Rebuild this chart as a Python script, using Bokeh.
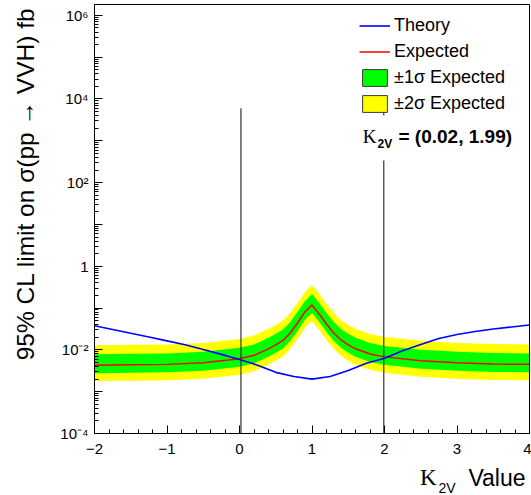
import math
from bokeh.plotting import figure
from bokeh.models import (FixedTicker, CustomJSTickFormatter, Legend, LegendItem,
                          Label, BoxAnnotation, Range1d)
from bokeh.embed import file_html
from bokeh.resources import INLINE

# Expected limit scan over kappa_2V (fb)
k2v = [-2.0, -1.5, -1.0, -0.5, 0.0, 0.2, 0.4, 0.5, 0.6, 0.7, 0.8, 0.9, 1.0,
       1.1, 1.2, 1.3, 1.4, 1.5, 1.6, 1.8, 2.0, 2.5, 3.0, 3.5, 4.0]
expected = [0.0043, 0.0044, 0.0045, 0.0049, 0.0061, 0.0074, 0.0106, 0.0132, 0.0168,
            0.0254, 0.044, 0.080, 0.118, 0.072, 0.0416, 0.0254, 0.0173, 0.0132,
            0.0106, 0.0080, 0.0068, 0.0055, 0.0049, 0.0046, 0.0045]
plus2 = [0.0129, 0.0132, 0.0135, 0.0147, 0.0183, 0.0222, 0.0318, 0.0396, 0.0504,
         0.0762, 0.132, 0.240, 0.354, 0.216, 0.125, 0.0762, 0.0519, 0.0396,
         0.0318, 0.0240, 0.0204, 0.0165, 0.0147, 0.0138, 0.0135]
plus1 = [0.0079, 0.0081, 0.0082, 0.0090, 0.0112, 0.0135, 0.0194, 0.0242, 0.0307,
         0.0465, 0.0805, 0.146, 0.216, 0.132, 0.0761, 0.0465, 0.0317, 0.0242,
         0.0194, 0.0146, 0.0124, 0.0101, 0.0090, 0.0084, 0.0082]
minus1 = [0.00277, 0.00284, 0.00290, 0.00316, 0.00393, 0.00477, 0.00684, 0.00851,
          0.0108, 0.0164, 0.0284, 0.0516, 0.0761, 0.0464, 0.0268, 0.0164, 0.0112,
          0.00851, 0.00684, 0.00516, 0.00439, 0.00355, 0.00316, 0.00297, 0.00290]
minus2 = [0.00179, 0.00183, 0.00187, 0.00204, 0.00254, 0.00308, 0.00441, 0.00549,
          0.00699, 0.0106, 0.0183, 0.0333, 0.0491, 0.0300, 0.0173, 0.0106, 0.0072,
          0.00549, 0.00441, 0.00333, 0.00283, 0.00229, 0.00204, 0.00191, 0.00187]

# Theory cross section (fb)
theory_k2v = [-2.0, -1.75, -1.5, -1.25, -1.0, -0.75, -0.5, -0.25, 0.0, 0.25, 0.5,
              0.75, 1.0, 1.25, 1.5, 1.75, 2.0, 2.25, 2.5, 2.75, 3.0, 3.25, 3.5,
              3.75, 4.0]
theory = [0.0379, 0.0308, 0.0250, 0.0204, 0.0164, 0.0132, 0.0102, 0.0078, 0.0059,
          0.0043, 0.0029, 0.0023, 0.0020, 0.0023, 0.0032, 0.0048, 0.0063, 0.0095,
          0.0135, 0.0188, 0.0234, 0.0275, 0.0316, 0.0353, 0.0394]

# Where the expected limit crosses the theory curve
crossings = [0.02, 1.99]
crossing_label = "= (0.02, 1.99)"
marker_bottom = 1e-4
marker_top = 6.0e3

x_ticks = [-2, -1, 0, 1, 2, 3, 4]
y_decades = list(range(-4, 7))

FONT = "Liberation Sans"
SERIF = "Liberation Serif"
XMIN, XMAX = -2.0, 4.0
YMIN, YMAX = 1e-4, 1.82e6

# Canvas geometry: the axes box sits inside a full-canvas frame, so titles and
# labels around it can be placed freely.
W, H = 531, 495
BOX_L, BOX_R, BOX_T, BOX_B = 94, 529, 4, 433
PX_PER_X = (BOX_R - BOX_L) / (XMAX - XMIN)
PX_PER_DEC = (BOX_B - BOX_T) / (math.log10(YMAX) - math.log10(YMIN))


def xd(px):
    return XMIN + (px - BOX_L) / PX_PER_X


def yd(py):
    return 10 ** (math.log10(YMIN) + (BOX_B - py) / PX_PER_DEC)


p = figure(width=W, height=H, output_backend="svg", toolbar_location=None,
           title=None, y_axis_type="log",
           x_range=Range1d(xd(0), xd(W)), y_range=Range1d(yd(H), yd(0)),
           min_border=0, min_border_left=0, min_border_right=0,
           min_border_top=0, min_border_bottom=0)
p.background_fill_color = "white"
p.border_fill_color = "white"
p.outline_line_color = None
p.xgrid.visible = False
p.ygrid.visible = False

# Bands
p.varea(x=k2v, y1=minus2, y2=plus2, fill_color="#ffff00")
p.varea(x=k2v, y1=minus1, y2=plus1, fill_color="#00ff00")
r_exp = p.line(k2v, expected, line_color="#ff0000", line_width=1.5)
r_th = p.line(theory_k2v, theory, line_color="#0000ff", line_width=1.6)

# Crossing markers
p.segment(x0=crossings, y0=[marker_bottom] * len(crossings), x1=crossings,
          y1=[marker_top] * len(crossings), line_color="#333333", line_width=1.2)

# Axes box
p.add_layout(BoxAnnotation(left=XMIN, right=XMAX, bottom=YMIN, top=YMAX,
                           fill_alpha=0, line_color="black", line_width=1,
                           line_alpha=1))

# Outlined swatches for the band legend entries (they draw nothing in the frame)
NAN = float("nan")
sw_g = p.patch(x=[NAN], y=[NAN], fill_color="#00ff00", line_color="#3a3a3a",
               line_width=1)
sw_y = p.patch(x=[NAN], y=[NAN], fill_color="#ffff00", line_color="#3a3a3a",
               line_width=1)

legend = Legend(items=[LegendItem(label="Theory", renderers=[r_th]),
                       LegendItem(label="Expected", renderers=[r_exp]),
                       LegendItem(label="\u00b11\u03c3 Expected", renderers=[sw_g]),
                       LegendItem(label="\u00b12\u03c3 Expected", renderers=[sw_y])],
                location=(359, H - 114), orientation="vertical",
                label_text_font=FONT, label_text_font_size="18px",
                label_text_color="black",
                glyph_width=31, glyph_height=21, label_height=21,
                label_standoff=4, spacing=5, padding=0, margin=0,
                border_line_alpha=0, background_fill_alpha=0)
p.add_layout(legend)

# White box behind the crossing text
p.add_layout(BoxAnnotation(left=xd(360), right=xd(520), bottom=yd(160), top=yd(115),
                           fill_color="white", fill_alpha=1.0, line_alpha=0))


def text(px, py, s, font=FONT, size="18px", style="normal", align="left", angle=0.0):
    p.add_layout(Label(x=xd(px), y=yd(py), text=s, text_font=font,
                       text_font_size=size, text_font_style=style,
                       text_color="black", text_align=align,
                       text_baseline="alphabetic", angle=angle))


# Crossing text: K_2V = (a, b)
text(376, 136, "K", font=SERIF, size="19px", align="right")
text(377, 143, "2V", size="12px", style="bold")
text(398, 136, crossing_label, size="19px", style="bold")

# Axis titles
text(25, 7, "95% CL limit on \u03c3(pp \u2192 VVH) fb", size="24.5px",
     align="right", angle=math.pi / 2)
text(436, 477, "K", font=SERIF, size="23px", align="right")
text(438, 487, "2V", size="14px")
text(525, 477, "Value", size="23px", align="right")

# Axes drawn along the box edges
p.xaxis.fixed_location = YMIN
p.yaxis.fixed_location = XMIN
p.xaxis.bounds = (XMIN, XMAX)
p.yaxis.bounds = (YMIN, YMAX)
p.xaxis.ticker = FixedTicker(ticks=x_ticks,
                             minor_ticks=[round(-2 + 0.2 * i, 2) for i in range(31)])
p.xaxis.formatter = CustomJSTickFormatter(
    code='return tick < 0 ? "\\u2212" + Math.abs(tick) : String(tick);')
p.yaxis.ticker = FixedTicker(ticks=[10.0 ** e for e in y_decades],
                             minor_ticks=[m * 10.0 ** e for e in y_decades[:-1]
                                          for m in range(2, 10)])
p.yaxis.formatter = CustomJSTickFormatter(code="""
    const e = Math.round(Math.log10(tick));
    if (e % 2 != 0) return "";
    if (e == 0) return "1";
    const sup = {"-": "\\u207b", "0": "\\u2070", "1": "\\u00b9", "2": "\\u00b2",
                 "3": "\\u00b3", "4": "\\u2074", "5": "\\u2075", "6": "\\u2076",
                 "7": "\\u2077", "8": "\\u2078", "9": "\\u2079"};
    return "10" + String(e).split("").map(c => sup[c]).join("");
""")
for ax in (p.xaxis, p.yaxis):
    ax.major_tick_in = 8
    ax.major_tick_out = 0
    ax.minor_tick_in = 4
    ax.minor_tick_out = 0
    ax.axis_line_color = "black"
    ax.axis_line_width = 1
    ax.major_tick_line_color = "black"
    ax.minor_tick_line_color = "black"
    ax.major_label_text_font = FONT
    ax.major_label_text_font_size = "15px"
    ax.major_label_text_color = "black"
p.xaxis.major_label_standoff = 10
p.yaxis.major_label_standoff = 6

open("out.html", "w").write(file_html(p, INLINE))
